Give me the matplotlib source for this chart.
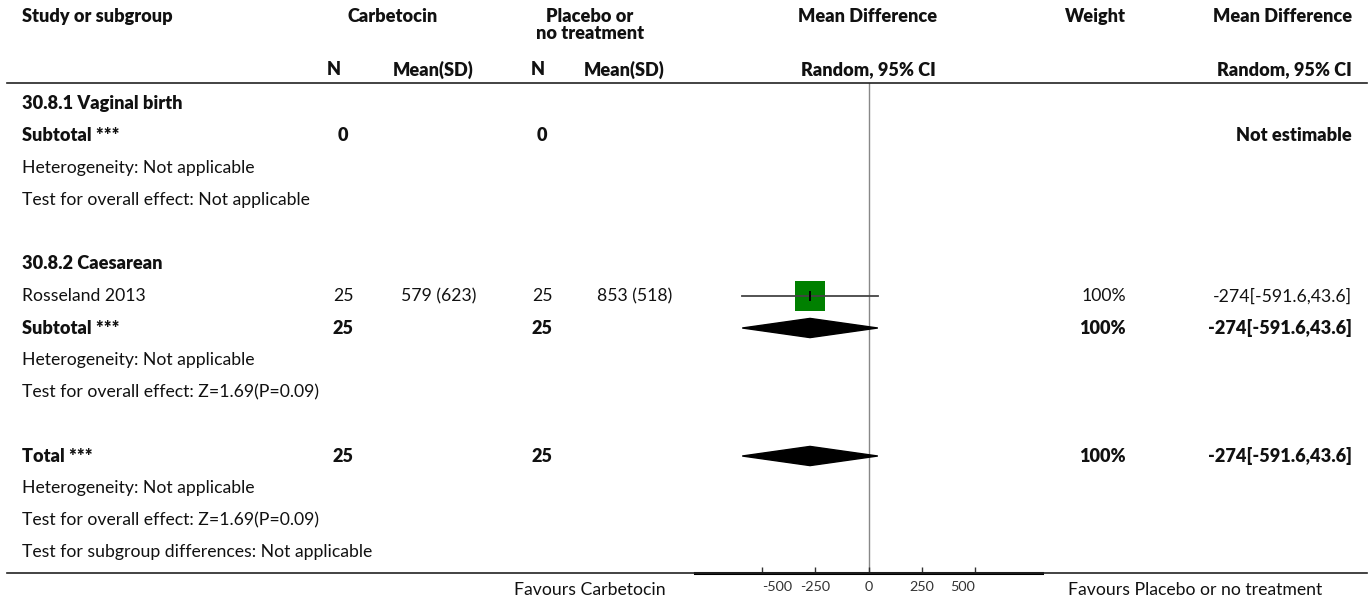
import matplotlib.pyplot as plt
from matplotlib.lines import Line2D
from matplotlib.patches import Polygon
from matplotlib.transforms import blended_transform_factory

plt.rcParams['font.family'] = ['Lato', 'DejaVu Sans']

# data
study_names = ['Rosseland 2013']
carb_n = [25]
carb_mean = [579]
carb_sd = [623]
plac_n = [25]
plac_mean = [853]
plac_sd = [518]
md = [-274]
md_lo = [-591.6]
md_hi = [43.6]
weights = [100]

subgroups = ['30.8.1 Vaginal birth', '30.8.2 Caesarean']
sub_carb_n = [0, 25]
sub_plac_n = [0, 25]
sub_md = [None, -274]
sub_lo = [None, -591.6]
sub_hi = [None, 43.6]
sub_weight = [None, 100]
sub_effect = ['Test for overall effect: Not applicable',
              'Test for overall effect: Z=1.69(P=0.09)']
sub_studies = [[], [0]]

total_carb_n = 25
total_plac_n = 25
total_md, total_lo, total_hi = -274, -591.6, 43.6
total_effect = 'Test for overall effect: Z=1.69(P=0.09)'

x_ticks = [-500, -250, 0, 250, 500]

W, H = 1370, 601
BOLD = 'heavy'
fig = plt.figure(figsize=(W / 100, H / 100), dpi=100)
renderer = fig.canvas.get_renderer()


def fit_size(s, weight, target_px):
    # pick a font size so the string is about as wide as in the reference
    t = fig.text(0, 0, s, fontsize=10, fontweight=weight)
    w = t.get_window_extent(renderer=renderer).width
    t.remove()
    return 10 * target_px / w


FS = fit_size('Heterogeneity: Not applicable', 'normal', 233)
FSB = fit_size('30.8.1 Vaginal birth', BOLD, 160)


def fx(px):
    return px / W


def fy(py):
    return (H - py) / H


n_rows = 15
ax = fig.add_axes([fx(695), fy(573), fx(1042 - 695), (573 - 83) / H])
ax.set_xlim(-813, 813)
ax.set_ylim(n_rows - 1 + 0.656, -0.656)
tr = blended_transform_factory(fig.transFigure, ax.transData)


def put(x_px, row, s, ha='left', bold=False):
    ax.text(fx(x_px), row, s, transform=tr, ha=ha, va='center',
            fontweight=BOLD if bold else 'normal',
            fontsize=FSB if bold else FS,
            clip_on=False, color='#111111')


def fmt_ci(m, lo, hi):
    return f'{m:g}[{lo:g},{hi:g}]'


def diamond(m, lo, hi, row):
    h = 0.3
    ax.add_patch(Polygon([(lo, row), (m, row - h), (hi, row), (m, row + h)],
                         closed=True, color='black', zorder=3))


# column anchors (pixels)
X_LABEL = 22
X_CN, X_CM, X_PN, X_PM = 343, 439, 542, 635
X_W = 1126
X_MD = 1352


def hdr_row(py):
    return (py - 104) / 32


# headers
put(X_LABEL, hdr_row(17), 'Study or subgroup', bold=True)
put(393, hdr_row(17), 'Carbetocin', ha='center', bold=True)
put(590, hdr_row(17), 'Placebo or', ha='center', bold=True)
put(590, hdr_row(34), 'no treatment', ha='center', bold=True)
put(868, hdr_row(17), 'Mean Difference', ha='center', bold=True)
put(X_W, hdr_row(17), 'Weight', ha='right', bold=True)
put(X_MD, hdr_row(17), 'Mean Difference', ha='right', bold=True)
for xc, s in [(334, 'N'), (433, 'Mean(SD)'), (538, 'N'), (624, 'Mean(SD)')]:
    put(xc, hdr_row(70), s, ha='center', bold=True)
put(868, hdr_row(70), 'Random, 95% CI', ha='center', bold=True)
put(X_MD, hdr_row(70), 'Random, 95% CI', ha='right', bold=True)

# body
row = 0
for g, name in enumerate(subgroups):
    put(X_LABEL, row, name, bold=True)
    row += 1
    for i in sub_studies[g]:
        put(X_LABEL, row, study_names[i])
        put(X_CN, row, str(carb_n[i]), ha='center')
        put(X_CM, row, f'{carb_mean[i]} ({carb_sd[i]})', ha='center')
        put(X_PN, row, str(plac_n[i]), ha='center')
        put(X_PM, row, f'{plac_mean[i]} ({plac_sd[i]})', ha='center')
        put(X_W, row, f'{weights[i]}%', ha='right')
        put(X_MD, row, fmt_ci(md[i], md_lo[i], md_hi[i]), ha='right')
        ms = 22.3 * (weights[i] / 100) ** 0.5
        ax.plot(md[i], row, marker='s', ms=ms, color='#008000', mew=0, zorder=2)
        ax.plot([md_lo[i], md_hi[i]], [row, row], color='#444444', lw=1.3, zorder=3)
        ax.plot(md[i], row, marker='|', ms=7, mew=1.4, color='black', zorder=4)
        row += 1
    put(X_LABEL, row, 'Subtotal ***', bold=True)
    put(X_CN, row, str(sub_carb_n[g]), ha='center', bold=True)
    put(X_PN, row, str(sub_plac_n[g]), ha='center', bold=True)
    if sub_md[g] is None:
        put(X_MD, row, 'Not estimable', ha='right', bold=True)
    else:
        put(X_W, row, f'{sub_weight[g]}%', ha='right', bold=True)
        put(X_MD, row, fmt_ci(sub_md[g], sub_lo[g], sub_hi[g]), ha='right', bold=True)
        diamond(sub_md[g], sub_lo[g], sub_hi[g], row)
    row += 1
    put(X_LABEL, row, 'Heterogeneity: Not applicable')
    row += 1
    put(X_LABEL, row, sub_effect[g])
    row += 2

put(X_LABEL, row, 'Total ***', bold=True)
put(X_CN, row, str(total_carb_n), ha='center', bold=True)
put(X_PN, row, str(total_plac_n), ha='center', bold=True)
put(X_W, row, '100%', ha='right', bold=True)
put(X_MD, row, fmt_ci(total_md, total_lo, total_hi), ha='right', bold=True)
diamond(total_md, total_lo, total_hi, row)
put(X_LABEL, row + 1, 'Heterogeneity: Not applicable')
put(X_LABEL, row + 2, total_effect)
put(X_LABEL, row + 3, 'Test for subgroup differences: Not applicable')

# axes styling
ax.axvline(0, color='#888888', lw=1, zorder=1)
for side in ['top', 'left', 'right']:
    ax.spines[side].set_visible(False)
ax.spines['bottom'].set_linewidth(2.2)
ax.set_yticks([])
ax.set_xticks(x_ticks)
ax.set_xticklabels([str(t) for t in x_ticks])
ax.tick_params(axis='x', direction='in', length=4.5, width=1, pad=6,
               labelsize=FS * 0.82, colors='#333333')
# outer labels sit inside their ticks, as in the reference
tick_labels = ax.get_xticklabels()
tick_labels[0].set_ha('left')
tick_labels[-1].set_ha('right')
ax.patch.set_visible(False)

# full-width rules
for py in [83, 573]:
    fig.add_artist(Line2D([fx(7), fx(1367)], [fy(py), fy(py)],
                          transform=fig.transFigure, color='#222222', lw=1.2))

fig.text(fx(666), fy(590), 'Favours Carbetocin', ha='right', va='center',
         fontsize=FS, color='#111111')
fig.text(fx(1068), fy(590), 'Favours Placebo or no treatment', ha='left',
         va='center', fontsize=FS, color='#111111')

fig.savefig('out.png', dpi=100)
